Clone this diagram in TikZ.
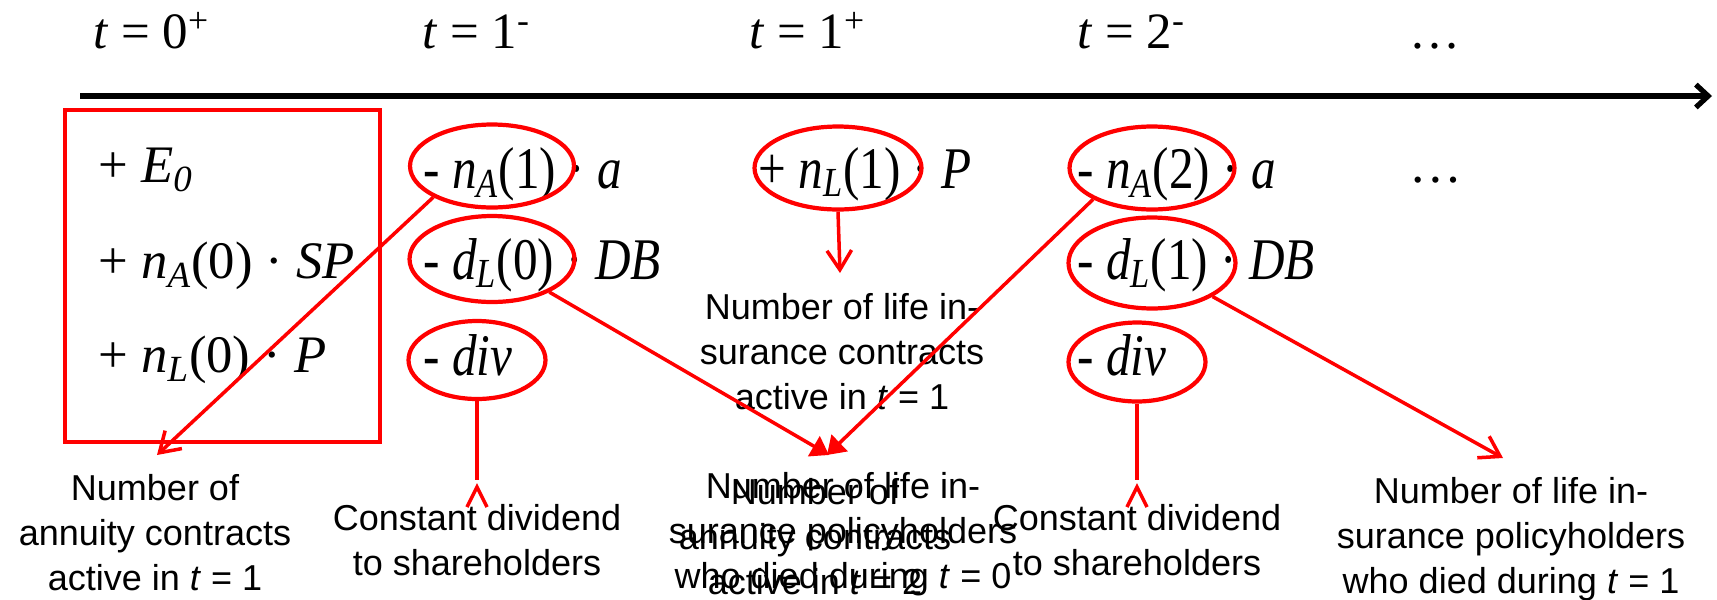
\documentclass[tikz,border=0pt]{standalone}
\usepackage{fontspec}
\setmainfont{Liberation Serif}
\newfontfamily\lblfont{Liberation Sans}
\usepackage{tikz}
\usetikzlibrary{positioning,arrows.meta,shapes.geometric}

\newcommand{\idx}[1]{\textsubscript{\textit{#1}}}

\begin{document}
\begin{tikzpicture}[
          x=0.02cm, y=-0.02cm,
          tlbl/.style={font=\fontsize{29}{35}\selectfont, inner sep=0pt, anchor=base west},
          mth/.style={font=\fontsize{30}{36}\selectfont, inner sep=0pt, anchor=base west},
          mthb/.style={font=\fontsize{28}{34}\selectfont, inner sep=0pt, anchor=base west, yscale=1.2},
          lbl/.style={font=\lblfont\fontsize{20.5}{25.5}\selectfont, align=center, inner sep=0pt, anchor=base},
          ring/.style={draw=red, ellipse, line width=2.4pt, inner sep=0pt},
          redline/.style={draw=red, line width=2pt},
          redarr/.style={redline, -{Straight Barb[length=11pt, width=14pt]}},
          redfill/.style={redline, -{Triangle[length=10pt, width=13pt]}}
      ]
        \useasboundingbox (0,0) rectangle (1717,599);
        % time axis
        \node[tlbl] (t0p) at (93,48) {\textit{t} = 0\textsuperscript{+}};
        \node[tlbl] (t1m) at (422,48) {\textit{t} = 1\textsuperscript{-}};
        \node[tlbl] (t1p) at (749,48) {\textit{t} = 1\textsuperscript{+}};
        \node[tlbl] (t2m) at (1077,48) {\textit{t} = 2\textsuperscript{-}};
        \node[tlbl] (tdots) at (1409,48) {…};
        \coordinate (ax0) at (80,96);
        \coordinate (ax1) at (1712,96);
        \draw[line width=3pt, -{Straight Barb[length=7pt, width=13pt]}] (ax0) -- (ax1);

        % cash flows
        \draw[red, line width=2.8pt] (65,110) rectangle (380,442);
        \node[mth] (e0) at (98,182) {+ \textit{E}\idx{0}};
        \node[mth] (sp0) at (98,278) {+ \textit{n}\idx{A}(0) · \textit{SP}};
        \node[mth] (pl0) at (98,372) {+ \textit{n}\idx{L}(0) · \textit{P}};

        \node[mthb] (ca1) at (423,188) {- \textit{n}\idx{A}(1) · \textit{a}};
        \node[mthb] (cd0) at (423,279) {- \textit{d}\idx{L}(0) · \textit{DB}};
        \node[mthb] (cv1) at (423,375) {- \textit{div}};
        \node[mthb] (cl1) at (758,188) {+ \textit{n}\idx{L}(1) · \textit{P}};
        \node[mthb] (ca2) at (1077,188) {- \textit{n}\idx{A}(2) · \textit{a}};
        \node[mthb] (cd1) at (1077,279) {- \textit{d}\idx{L}(1) · \textit{DB}};
        \node[mthb] (cv2) at (1077,375) {- \textit{div}};
        \node[mth] (rdots) at (1409,182) {…};

        \node[ring, minimum width=3.28cm, minimum height=1.66cm] (na1) at (492,166) {};
        \node[ring, minimum width=3.30cm, minimum height=1.72cm] (dl0) at (492,259) {};
        \node[ring, minimum width=2.74cm, minimum height=1.56cm] (dv1) at (477,360) {};
        \node[ring, minimum width=3.34cm, minimum height=1.66cm] (nl1) at (838,168) {};
        \node[ring, minimum width=3.30cm, minimum height=1.66cm] (na2) at (1152,168) {};
        \node[ring, minimum width=3.34cm, minimum height=1.82cm] (dl1) at (1152,263) {};
        \node[ring, minimum width=2.74cm, minimum height=1.58cm] (dv2) at (1137,362) {};

        % explanations
        \node[lbl] (annA1) at (155,590) {Number of\\annuity contracts\\active in \textit{t} = 1};
        \node[lbl] (divA) at (477,575) {Constant dividend\\to shareholders};
        \node[lbl] (lifeL1) at (842,409) {Number of life in-\\surance contracts\\active in \textit{t} = 1};
        \node[lbl] (deadL0) at (843,588) {Number of life in-\\surance policyholders\\who died during \textit{t} = 0};
        \node[lbl] (annA2) at (815,594) {Number of\\annuity contracts\\active in \textit{t} = 2};
        \node[lbl] (divB) at (1137,575) {Constant dividend\\to shareholders};
        \node[lbl] (deadL1) at (1511,593) {Number of life in-\\surance policyholders\\who died during \textit{t} = 1};

        \coordinate (e1) at (157,455);
        \coordinate (e2) at (829,455);
        \coordinate (e3) at (827,455);
        \coordinate (e4) at (1503,458);
        \coordinate (e5) at (840,273);
        \draw[redarr] (na1.208) -- (e1);
        \draw[redfill] (dl0.-30) -- (e2);
        \draw[redfill] (na2.208) -- (e3);
        \draw[redarr] (dl1.-29) -- (e4);
        \draw[redarr] (nl1.south) -- (e5);

        \coordinate (v1) at (477,480);
        \coordinate (v1b) at (477,487);
        \coordinate (v2) at (1137,480);
        \coordinate (v2b) at (1137,487);
        \draw[redline] (dv1.south) -- (v1);
        \draw[redline] (v1b) ++(-10,20) -- (v1b) -- ++(10,20);
        \draw[redline] (dv2.south) -- (v2);
        \draw[redline] (v2b) ++(-10,20) -- (v2b) -- ++(10,20);
      \end{tikzpicture}
\end{document}
